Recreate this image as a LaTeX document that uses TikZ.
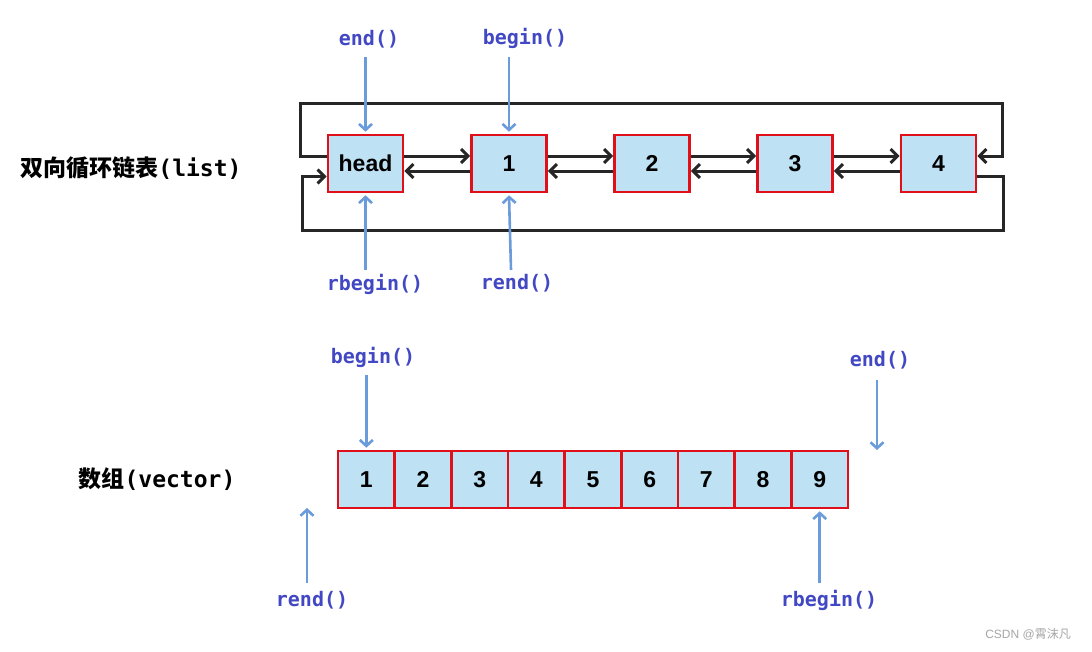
\documentclass[tikz,border=0pt]{standalone}
\usepackage{fontspec}
\setmainfont{Liberation Sans}
\newfontfamily\cjk{Noto Sans CJK SC}
\newfontfamily\mono{DejaVu Sans Mono}
\usetikzlibrary{arrows.meta}
\definecolor{cellblue}{HTML}{BEE1F4}
\definecolor{cellred}{HTML}{E0101A}
\definecolor{ptrblue}{HTML}{6A9BDB}
\definecolor{txtblue}{HTML}{4248C4}

\begin{document}
\begin{tikzpicture}[x=1pt,y=-1pt,
  cell/.style={draw=cellred,line width=2.6pt,fill=cellblue,minimum width=75pt,minimum height=57pt,inner sep=0pt,font=\fontsize{23}{23}\selectfont\bfseries},
  vcell/.style={cell,minimum width=56.7pt},
  link/.style={-{Straight Barb[length=7pt,width=14pt]},line width=3pt,black!85},
  ptr/.style={-{Straight Barb[length=6pt,width=13pt]},line width=2.6pt,ptrblue},
  fn/.style={txtblue,font=\fontsize{20}{20}\selectfont\mono\bfseries},
  title/.style={font=\fontsize{23}{23}\selectfont\bfseries}]
  \useasboundingbox[fill=white] (0,0) rectangle (1092,651);

  % list
  \node[title] (listlbl) at (131,168) {\cjk 双向循环链表\mono(list)};
  \node[cell] (head) at (365.5,163.5) {head};
  \node[cell] (n1) at (509,163.5) {1};
  \node[cell] (n2) at (652,163.5) {2};
  \node[cell] (n3) at (795,163.5) {3};
  \node[cell] (n4) at (938.5,163.5) {4};
  \draw[link] ([yshift=7.5pt]head.east) -- ([yshift=7.5pt]n1.west);
  \draw[link] ([yshift=-7.5pt]n1.west) -- ([yshift=-7.5pt]head.east);
  \draw[link] ([yshift=7.5pt]n1.east) -- ([yshift=7.5pt]n2.west);
  \draw[link] ([yshift=-7.5pt]n2.west) -- ([yshift=-7.5pt]n1.east);
  \draw[link] ([yshift=7.5pt]n2.east) -- ([yshift=7.5pt]n3.west);
  \draw[link] ([yshift=-7.5pt]n3.west) -- ([yshift=-7.5pt]n2.east);
  \draw[link] ([yshift=7.5pt]n3.east) -- ([yshift=7.5pt]n4.west);
  \draw[link] ([yshift=-7.5pt]n4.west) -- ([yshift=-7.5pt]n3.east);
  \draw[link] ([yshift=7.5pt]head.west) -- ++(-26,0) |- (1002,103) |- ([yshift=7.5pt]n4.east);
  \draw[link] ([yshift=-13pt]n4.east) -- ++(26,0) |- (302,230) |- ([yshift=-13pt]head.west);

  \node[fn] (lend) at (369,39) {end()};
  \node[fn] (lbegin) at (525,38) {begin()};
  \node[fn] (lrbegin) at (375,284) {rbegin()};
  \node[fn] (lrend) at (517,283) {rend()};
  \draw[ptr] (head.north |- 0,57) -- ([yshift=2pt]head.north);
  \draw[ptr] (n1.north |- 0,57) -- ([yshift=2pt]n1.north);
  \draw[ptr] (head.south |- 0,270) -- ([yshift=-2pt]head.south);
  \draw[ptr] (511,270) -- ([yshift=-2pt]n1.south);

  % vector
  \node[title] (veclbl) at (157,479) {\cjk 数组\mono(vector)};
  \foreach \i in {1,...,9}
    \node[vcell] (v\i) at (338+56.67*\i-28.33,479.5) {\i};
  \coordinate (vend) at (877,450);
  \coordinate (vrend) at (307,508);
  \node[fn] (vbegin) at (373,357) {begin()};
  \node[fn] (vendlbl) at (880,360) {end()};
  \node[fn] (vrendlbl) at (312,600) {rend()};
  \node[fn] (vrbegin) at (829,600) {rbegin()};
  \draw[ptr] (v1.north |- 0,375) -- ([yshift=2pt]v1.north);
  \draw[ptr] (vend |- 0,380) -- (vend);
  \draw[ptr] (vrend |- 0,583) -- (vrend);
  \draw[ptr] (v9.south |- 0,583) -- ([yshift=-2pt]v9.south);

  \node[gray!70,font=\fontsize{12}{12}\selectfont] (mark) at (1028,634) {CSDN @\cjk 霄沫凡};
\end{tikzpicture}
\end{document}
